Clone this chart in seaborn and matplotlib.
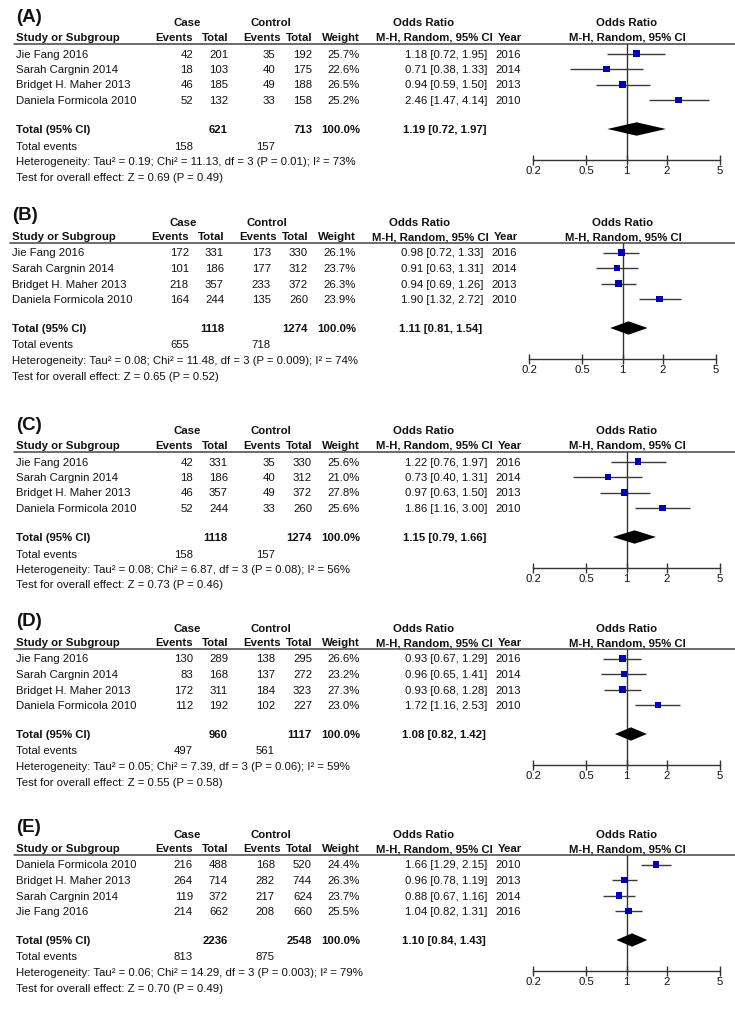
import numpy as np
import pandas as pd
import seaborn as sns
import matplotlib.pyplot as plt
from matplotlib.lines import Line2D
from matplotlib.ticker import NullLocator

# panel labels and study order
panels = ["(A)", "(B)", "(C)", "(D)", "(E)"]
studies_abcd = ["Jie Fang 2016", "Sarah Cargnin 2014", "Bridget H. Maher 2013", "Daniela Formicola 2010"]
studies_e = ["Daniela Formicola 2010", "Bridget H. Maher 2013", "Sarah Cargnin 2014", "Jie Fang 2016"]
studies = [studies_abcd, studies_abcd, studies_abcd, studies_abcd, studies_e]
years = [[2016, 2014, 2013, 2010]] * 4 + [[2010, 2013, 2014, 2016]]

# per-study columns, one sublist per panel
case_events = [[42, 18, 46, 52], [172, 101, 218, 164], [42, 18, 46, 52], [130, 83, 172, 112], [216, 264, 119, 214]]
case_total = [[201, 103, 185, 132], [331, 186, 357, 244], [331, 186, 357, 244], [289, 168, 311, 192], [488, 714, 372, 662]]
ctrl_events = [[35, 40, 49, 33], [173, 177, 233, 135], [35, 40, 49, 33], [138, 137, 184, 102], [168, 282, 217, 208]]
ctrl_total = [[192, 175, 188, 158], [330, 312, 372, 260], [330, 312, 372, 260], [295, 272, 323, 227], [520, 744, 624, 660]]
weights = [[25.7, 22.6, 26.5, 25.2], [26.1, 23.7, 26.3, 23.9], [25.6, 21.0, 27.8, 25.6], [26.6, 23.2, 27.3, 23.0], [24.4, 26.3, 23.7, 25.5]]
odds = [[1.18, 0.71, 0.94, 2.46], [0.98, 0.91, 0.94, 1.90], [1.22, 0.73, 0.97, 1.86], [0.93, 0.96, 0.93, 1.72], [1.66, 0.96, 0.88, 1.04]]
ci_low = [[0.72, 0.38, 0.59, 1.47], [0.72, 0.63, 0.69, 1.32], [0.76, 0.40, 0.63, 1.16], [0.67, 0.65, 0.68, 1.16], [1.29, 0.78, 0.67, 0.82]]
ci_high = [[1.95, 1.33, 1.50, 4.14], [1.33, 1.31, 1.26, 2.72], [1.97, 1.31, 1.50, 3.00], [1.29, 1.41, 1.28, 2.53], [2.15, 1.19, 1.16, 1.31]]

# pooled results per panel
sum_case_total = [621, 1118, 1118, 960, 2236]
sum_ctrl_total = [713, 1274, 1274, 1117, 2548]
sum_case_events = [158, 655, 158, 497, 813]
sum_ctrl_events = [157, 718, 157, 561, 875]
pooled_or = [1.19, 1.11, 1.15, 1.08, 1.10]
pooled_low = [0.72, 0.81, 0.79, 0.82, 0.84]
pooled_high = [1.97, 1.54, 1.66, 1.42, 1.43]
tau2 = [0.19, 0.08, 0.08, 0.05, 0.06]
chi2 = [11.13, 11.48, 6.87, 7.39, 14.29]
p_het = ["0.01", "0.009", "0.08", "0.06", "0.003"]
i2 = [73, 74, 56, 59, 79]
z_val = [0.69, 0.65, 0.73, 0.55, 0.70]
p_z = ["0.49", "0.52", "0.46", "0.58", "0.49"]

ticks = [0.2, 0.5, 1, 2, 5]

W, H = 735, 1009
sns.set_theme(style="white")
plt.rcParams['font.family'] = ['Liberation Sans', 'DejaVu Sans']

fig = plt.figure(figsize=(W / 100, H / 100), dpi=100)


def fx(x):
    return x / W


def fy(y):
    return 1 - y / H


def put(x, y, s, ha='left', bold=False, size=8.2):
    fig.text(fx(x), fy(y), s, ha=ha, va='center_baseline', fontsize=size,
             fontweight='bold' if bold else 'normal', color='#111111')


# pixel y of the header rule of each panel, and small horizontal shift
line_y = [44, 243, 452, 649, 855]
shift = [0, -4, 0, 0, 0]

for p in range(5):
    L = line_y[p]
    dx = shift[p]

    put(16 + dx, L - 29, panels[p], bold=True, size=13.5)

    # table header
    put(187 + dx, L - 21.5, "Case", ha='center', bold=True)
    put(271 + dx, L - 21.5, "Control", ha='center', bold=True)
    put(424 + dx, L - 21.5, "Odds Ratio", ha='center', bold=True)
    put(627 + dx, L - 21.5, "Odds Ratio", ha='center', bold=True)
    put(16 + dx, L - 7, "Study or Subgroup", bold=True)
    put(193 + dx, L - 7, "Events", ha='right', bold=True)
    put(229 + dx, L - 7, "Total", ha='right', bold=True)
    put(281 + dx, L - 7, "Events", ha='right', bold=True)
    put(313 + dx, L - 7, "Total", ha='right', bold=True)
    put(360 + dx, L - 7, "Weight", ha='right', bold=True)
    put(493 + dx, L - 7, "M-H, Random, 95% CI", ha='right', bold=True)
    put(522 + dx, L - 7, "Year", ha='right', bold=True)
    put(627 + dx, L - 7, "M-H, Random, 95% CI", ha='center', bold=True)
    fig.add_artist(Line2D([fx(14 + dx), fx(735)], [fy(L), fy(L)], color='#444444', lw=1.1))

    rows = 9.5 + 15.5 * np.arange(4)
    for i in range(4):
        y = L + rows[i]
        put(16 + dx, y, studies[p][i])
        put(193 + dx, y, str(case_events[p][i]), ha='right')
        put(228 + dx, y, str(case_total[p][i]), ha='right')
        put(275 + dx, y, str(ctrl_events[p][i]), ha='right')
        put(312 + dx, y, str(ctrl_total[p][i]), ha='right')
        put(360 + dx, y, f"{weights[p][i]:.1f}%", ha='right')
        put(487 + dx, y, f"{odds[p][i]:.2f} [{ci_low[p][i]:.2f}, {ci_high[p][i]:.2f}]", ha='right')
        put(521 + dx, y, str(years[p][i]), ha='right')

    put(16 + dx, L + 85, "Total (95% CI)", bold=True)
    put(228 + dx, L + 85, str(sum_case_total[p]), ha='right', bold=True)
    put(312 + dx, L + 85, str(sum_ctrl_total[p]), ha='right', bold=True)
    put(360 + dx, L + 85, "100.0%", ha='right', bold=True)
    put(486 + dx, L + 85, f"{pooled_or[p]:.2f} [{pooled_low[p]:.2f}, {pooled_high[p]:.2f}]", ha='right', bold=True)
    put(16 + dx, L + 101.5, "Total events")
    put(193 + dx, L + 101.5, str(sum_case_events[p]), ha='right')
    put(275 + dx, L + 101.5, str(sum_ctrl_events[p]), ha='right')
    put(16 + dx, L + 117, f"Heterogeneity: Tau\u00b2 = {tau2[p]:.2f}; Chi\u00b2 = {chi2[p]:.2f}, "
                          f"df = 3 (P = {p_het[p]}); I\u00b2 = {i2[p]}%")
    put(16 + dx, L + 132.5, f"Test for overall effect: Z = {z_val[p]:.2f} (P = {p_z[p]})")

    # forest plot
    ax = fig.add_axes([fx(533 + dx), fy(L + 116), (720 - 533) / W, 116 / H])
    ax.patch.set_alpha(0)
    df = pd.DataFrame({"or": odds[p], "lo": ci_low[p], "hi": ci_high[p],
                       "w": weights[p], "row": rows})
    ax.hlines(df["row"], df["lo"], df["hi"], color='#3a3a3a', lw=1, zorder=2)
    sns.scatterplot(data=df, x="or", y="row", size="w", sizes=(0, 95), size_norm=(0, 100),
                    marker='s', color='#0000b0', edgecolor='none', legend=False, zorder=3, ax=ax)
    ax.axvline(1, color='#333333', lw=1, zorder=1)
    ax.fill([pooled_low[p], pooled_or[p], pooled_high[p], pooled_or[p]],
            [85, 85 - 6.7, 85, 85 + 6.7], color='black', lw=0, zorder=4)
    ax.set_xscale('log')
    ax.set_xlim(0.2, 5)
    ax.set_ylim(116, 0)
    ax.set_xticks(ticks)
    ax.set_xticklabels([f"{t:g}" for t in ticks])
    ax.xaxis.set_minor_locator(NullLocator())
    ax.set_yticks([])
    ax.set_xlabel("")
    ax.set_ylabel("")
    for s in ["top", "left", "right"]:
        ax.spines[s].set_visible(False)
    ax.spines["bottom"].set_color('#333333')
    ax.spines["bottom"].set_linewidth(1)
    ax.tick_params(axis='x', bottom=True, direction='inout', length=7, width=1,
                   color='#333333', pad=1, labelsize=8.2, labelcolor='#111111')

fig.savefig("out.png", dpi=100)
